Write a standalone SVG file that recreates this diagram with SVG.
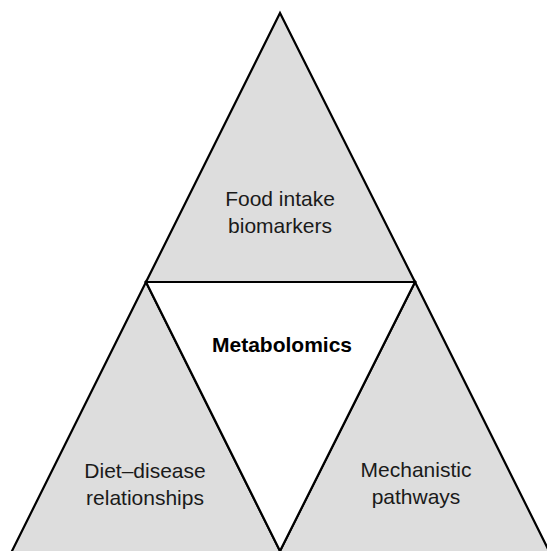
<svg xmlns="http://www.w3.org/2000/svg" width="547" height="551" viewBox="0 0 547 551">
<style>
.tri{fill:#dddddd;stroke:#000;stroke-width:2.2;stroke-linejoin:miter}
.ctr{fill:#ffffff;stroke:#000;stroke-width:2.2}
text{font-family:"Liberation Sans",Arial,sans-serif;font-size:21px;fill:#1a1a1a;text-anchor:middle}
.b{font-weight:bold;fill:#000}
</style>
<rect width="547" height="551" fill="#fff"/>
<g id="food">
<polygon class="tri" points="280,13 146,282 415,282"/>
<text x="280" y="206">Food intake</text>
<text x="280" y="233">biomarkers</text>
</g>
<g id="diet">
<polygon class="tri" points="146,282 11,553 281,553"/>
<text x="145" y="478">Diet–disease</text>
<text x="145" y="505">relationships</text>
</g>
<g id="mech">
<polygon class="tri" points="415,282 279,553 550,553"/>
<text x="416" y="477">Mechanistic</text>
<text x="416" y="504">pathways</text>
</g>
<g id="metabolomics">
<polygon class="ctr" points="146,282 415,282 280,551"/>
<text class="b" x="282" y="352">Metabolomics</text>
</g>
<g id="connectors"></g>
</svg>
